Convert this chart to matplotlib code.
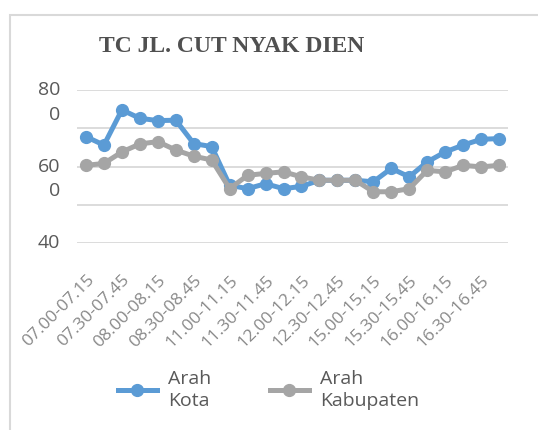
import matplotlib
matplotlib.use("Agg")
import matplotlib.pyplot as plt
from matplotlib.patches import Rectangle
from matplotlib.transforms import offset_copy, blended_transform_factory

# ---- data ----
categories = [
    "07.00-07.15", "07.15-07.30", "07.30-07.45", "07.45-08.00",
    "08.00-08.15", "08.15-08.30", "08.30-08.45", "08.45-09.00",
    "11.00-11.15", "11.15-11.30", "11.30-11.45", "11.45-12.00",
    "12.00-12.15", "12.15-12.30", "12.30-12.45", "12.45-13.00",
    "15.00-15.15", "15.15-15.30", "15.30-15.45", "15.45-16.00",
    "16.00-16.15", "16.15-16.30", "16.30-16.45", "16.45-17.00",
]
arah_kota = [678, 656, 748, 726, 720, 721, 660, 652,
             551, 542, 555, 542, 548, 564, 564, 564,
             560, 595, 573, 612, 638, 656, 671, 673]
arah_kabupaten = [603, 608, 638, 659, 665, 643, 627, 617,
                  542, 577, 582, 586, 573, 564, 564, 564,
                  534, 534, 542, 590, 586, 603, 599, 603]
series_names = ["Arah\nKota", "Arah\nKabupaten"]
title = "TC JL. CUT NYAK DIEN"
grid_values = [400, 500, 600, 700, 800]
ytick_values = [800, 600, 400]
ytick_lines = [["80", "0"], ["60", "0"], ["40"]]

BLUE = "#5B9BD5"
GRAY = "#A5A5A5"
TXT = "#595959"

plt.rcParams["font.family"] = ["Open Sans", "DejaVu Sans"]

fig = plt.figure(figsize=(5.38, 4.30), dpi=100)
W, H = 538, 430

# outer chart border
fig.patches.append(Rectangle((10 / W, -0.1), 1.2, 1 - 15 / H + 0.1,
                             transform=fig.transFigure, fill=False,
                             edgecolor="#D9D9D9", lw=1.5))

ax = fig.add_axes([77 / W, 1 - 243 / H, (508 - 77) / W, (243 - 90) / H])
x = list(range(len(categories)))

for g in grid_values:
    ax.axhline(g, color="#D9D9D9", lw=1.3, zorder=0)

ax.plot(x, arah_kota, color=BLUE, lw=3.6, marker="o", ms=8.5,
        label=series_names[0], zorder=3)
ax.plot(x, arah_kabupaten, color=GRAY, lw=3.6, marker="o", ms=8.5,
        label=series_names[1], zorder=4)

ax.set_xlim(-0.5, len(categories) - 0.5)
ax.set_ylim(400, 800)
for s in ax.spines.values():
    s.set_visible(False)

ax.set_yticks([])
ax.set_xticks(x[::2])
ax.set_xticklabels(categories[::2], rotation=45, ha="right", va="top",
                   rotation_mode="anchor", fontsize=12.5, color="#888888")
ax.tick_params(axis="x", length=0, pad=21)

# y labels (wrapped like the original)
tr = blended_transform_factory(fig.transFigure, ax.transData)
for val, lines in zip(ytick_values, ytick_lines):
    for i, ln in enumerate(lines):
        t = offset_copy(tr, fig=fig, x=0, y=-25 * i, units="dots")
        fig.text(60 / W, val, ln, transform=t, ha="right", va="center",
                 fontsize=14, color=TXT)

fig.text(232 / W, 1 - 47 / H, title, ha="center", va="center",
         fontsize=17, fontweight="bold", color="#505050",
         family=["Liberation Serif", "DejaVu Serif"])

leg = fig.legend(loc="center left", bbox_to_anchor=(110 / W, 1 - 390 / H),
                 ncol=2, frameon=False, fontsize=14, handlelength=2.0,
                 handletextpad=0.6, columnspacing=3.0, borderaxespad=0)
for t in leg.get_texts():
    t.set_color(TXT)
    t.set_linespacing(1.35)

fig.savefig("out.png", dpi=100)
